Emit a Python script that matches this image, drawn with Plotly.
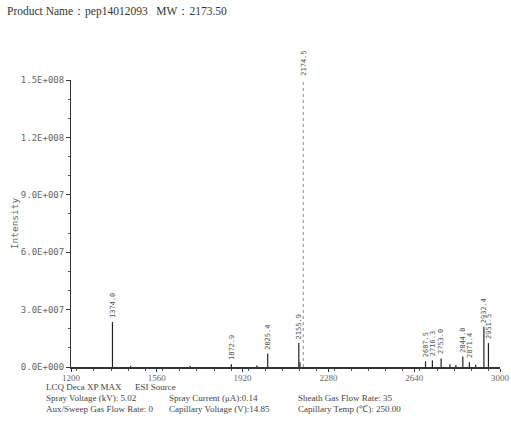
import plotly.graph_objects as go

# Labelled peaks (m/z, intensity)
peak_mz = [1374.0, 1872.9, 2025.4, 2155.9, 2687.5, 2716.3, 2753.0, 2844.0, 2871.4, 2932.4, 2951.5]
peak_int = [2.35e7, 1.5e6, 7.0e6, 1.25e7, 3.0e6, 3.5e6, 4.5e6, 5.5e6, 2.5e6, 2.1e7, 1.25e7]

# Base peak
base_mz = [2174.5]
base_int = [1.5e8]

# Small unlabelled peaks
minor_mz = [1450.0, 1700.0, 1980.0, 2160.5, 2790.0, 2815.0, 2898.0]
minor_int = [6e5, 5e5, 8e5, 2.5e6, 1.5e6, 1.0e6, 1.2e6]

y_tick_vals = [0, 3e7, 6e7, 9e7, 1.2e8, 1.5e8]
y_tick_text = ["0.0E+000", "3.0E+007", "6.0E+007", "9.0E+007", "1.2E+008", "1.5E+008"]
x_tick_vals = [1200, 1560, 1920, 2280, 2640, 3000]

header = "Product Name：pep14012093   MW：2173.50"
footer_rows = [
    ["LCQ Deca XP MAX      ESI Source", "", ""],
    ["Spray Voltage (kV): 5.02", "Spray Current (μA):0.14", "Sheath Gas Flow Rate: 35"],
    ["Aux/Sweep Gas Flow Rate: 0", "Capillary Voltage (V):14.85", "Capillary Temp (℃): 250.00"],
]


def sticks(xs, ys):
    sx, sy = [], []
    for x, y in zip(xs, ys):
        sx += [x, x, None]
        sy += [0, y, None]
    return sx, sy


fig = go.Figure()

mx, my = sticks(minor_mz + peak_mz, minor_int + peak_int)
fig.add_trace(go.Scatter(x=mx, y=my, mode="lines",
                         line=dict(color="#222222", width=1.2),
                         hoverinfo="skip", showlegend=False))
bx, by = sticks(base_mz, base_int)
fig.add_trace(go.Scatter(x=bx, y=by, mode="lines",
                         line=dict(color="#8a8a8a", width=1, dash="dot"),
                         hoverinfo="skip", showlegend=False))

label_font = dict(family="DejaVu Sans Mono", size=7, color="#555555")
for x, y in zip(peak_mz + base_mz, peak_int + base_int):
    fig.add_annotation(x=x, y=y, text=f"{x:.1f}", textangle=-90,
                       xanchor="center", yanchor="bottom", yshift=2,
                       showarrow=False, font=label_font)

plot_w = 511 - 71 - 11


def px_to_paper_x(px):
    return (px - 71) / plot_w


# Header line
fig.add_annotation(xref="paper", yref="paper", x=px_to_paper_x(5), y=1.237,
                   xanchor="left", yanchor="middle", showarrow=False,
                   text=header,
                   font=dict(family="Liberation Serif", size=11.5, color="#333333"))

# Instrument settings block
col_px = [44, 167, 296]
row_y = [-0.070, -0.108, -0.146]
for ry, row in zip(row_y, footer_rows):
    for cpx, txt in zip(col_px, row):
        if txt:
            fig.add_annotation(xref="paper", yref="paper", x=px_to_paper_x(cpx), y=ry,
                               xanchor="left", yanchor="middle", showarrow=False,
                               text=txt,
                               font=dict(family="Liberation Serif", size=9,
                                         color="#444444"))

fig.update_layout(
    width=511, height=421,
    margin=dict(l=71, r=11, t=80, b=54),
    paper_bgcolor="white", plot_bgcolor="white",
    xaxis=dict(range=[1200, 3000], tickvals=x_tick_vals,
               ticktext=[str(v) for v in x_tick_vals],
               automargin=False,
               showgrid=False, zeroline=False, showline=True,
               linecolor="#333333", linewidth=1.5,
               ticks="outside", ticklen=3, tickcolor="#333333",
               ticklabelstandoff=-2, ticklabeloverflow="allow",
               minor=dict(ticks="outside", ticklen=2, dtick=72, tickcolor="#555555"),
               tickfont=dict(family="Liberation Serif", size=9, color="#666666")),
    yaxis=dict(range=[0, 1.5e8], tickvals=y_tick_vals, ticktext=y_tick_text,
               automargin=False,
               showgrid=False, zeroline=False, showline=True,
               linecolor="#333333", linewidth=1,
               ticks="outside", ticklen=4, tickcolor="#333333",
               minor=dict(ticks="outside", ticklen=2, dtick=1e7, tickcolor="#555555"),
               tickfont=dict(family="DejaVu Sans Mono", size=9, color="#666666"),
               title=dict(text="Intensity", standoff=0,
                          font=dict(family="DejaVu Sans Mono", size=9.5, color="#666666"))),
)

fig.write_html("out.html")
